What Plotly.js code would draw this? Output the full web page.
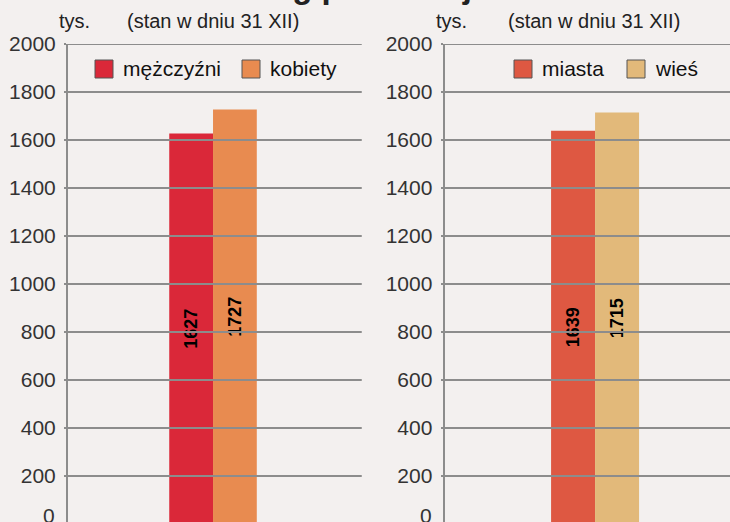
<!DOCTYPE html>
<html>
<head>
<meta charset="utf-8">
<script src="https://cdn.plot.ly/plotly-3.0.1.min.js"></script>
<style>html,body{margin:0;padding:0;background:#f3f0ef;}#chart{width:730px;height:522px;}</style>
</head>
<body>
<div id="chart"></div>
<script>
// ---- data ----
const titleText = 'Ludność według płci i miejsca zamieszkania';
const unitLabel = 'tys.';
const dateLabel = '(stan w dniu 31 XII)';
const sexCategories = ['mężczyźni', 'kobiety'];
const sexValues = [1627, 1727];
const placeCategories = ['miasta', 'wieś'];
const placeValues = [1639, 1715];
const tickValues = [0, 200, 400, 600, 800, 1000, 1200, 1400, 1600, 1800, 2000];
const sexColors = ['#da2839', '#e88b50'];
const placeColors = ['#de5842', '#e2b97a'];

// ---- helpers ----
const W = 730, H = 522, TOP = 44;
const px = x => x / W;
const py = y => (H - y) / (H - TOP);
const FONT = 'Liberation Sans, Arial, sans-serif';
const GRID = '#8c8c8c';

function makeTraces(cats, vals, colors, xa, ya) {
  return cats.map((c, i) => ({
    type: 'bar',
    name: c,
    x: ['all'],
    y: [vals[i]],
    xaxis: xa, yaxis: ya,
    marker: {color: colors[i], line: {width: 0}},
    text: [String(vals[i])],
    textposition: 'inside',
    insidetextanchor: 'middle',
    textangle: -90,
    constraintext: 'none',
    textfont: {family: FONT, size: 18, weight: 'bold', color: '#000'},
    hoverinfo: 'skip'
  }));
}

const data = [
  ...makeTraces(sexCategories, sexValues, sexColors, 'x', 'y'),
  ...makeTraces(placeCategories, placeValues, placeColors, 'x2', 'y2')
];

const yBase = {
  range: [8, 2000],
  tickvals: tickValues.filter(v => v > 0),
  showgrid: false,
  zeroline: false,
  showline: true,
  linecolor: GRID,
  linewidth: 2,
  ticks: 'outside',
  ticklen: 2,
  tickwidth: 2,
  tickcolor: GRID,
  ticklabelstandoff: 4,
  tickfont: {family: FONT, size: 21, color: '#333'},
  fixedrange: true
};
const xBase = {
  showticklabels: false, showgrid: false, zeroline: false, showline: false,
  ticks: '', fixedrange: true
};

const shapes = [];
[['x', 'y'], ['x2', 'y2']].forEach(([xa, ya]) => {
  tickValues.filter(v => v > 0).forEach(v => {
    shapes.push({
      type: 'line', layer: 'above',
      xref: xa + ' domain', yref: ya,
      x0: -0.008, x1: 1.02, y0: v, y1: v,
      line: {color: GRID, width: 2}
    });
  });
});

const annotations = [];
// title (clipped at top as in the reference)
annotations.push({
  text: '<b>' + titleText + '</b>', xref: 'paper', yref: 'paper',
  x: px(50), y: py(-13), xanchor: 'left', yanchor: 'middle',
  showarrow: false, font: {family: FONT, size: 33, color: '#222'}
});
// subtitles
[[74, 125], [451.5, 506]].forEach(([ux, dx]) => {
  annotations.push({text: unitLabel, xref: 'paper', yref: 'paper', x: px(ux), y: py(21),
    xanchor: 'center', yanchor: 'middle', showarrow: false, font: {family: FONT, size: 20, color: '#222'}});
  annotations.push({text: dateLabel, xref: 'paper', yref: 'paper', x: px(dx), y: py(21),
    xanchor: 'left', yanchor: 'middle', showarrow: false, font: {family: FONT, size: 20, color: '#222'}});
});
// zero labels
[57, 434].forEach(rx => {
  annotations.push({text: String(tickValues[0]), xref: 'paper', yref: 'paper', x: px(rx), y: py(515),
    xanchor: 'right', yanchor: 'middle', showarrow: false, font: {family: FONT, size: 21, color: '#333'}});
});

// custom legends
function legend(cats, colors, positions) {
  cats.forEach((c, i) => {
    const sx = positions[i];
    shapes.push({type: 'rect', xref: 'paper', yref: 'paper',
      x0: px(sx), x1: px(sx + 18), y0: py(78), y1: py(60),
      fillcolor: colors[i], line: {color: '#555', width: 1}});
    annotations.push({text: c, xref: 'paper', yref: 'paper', x: px(sx + 26), y: py(68.5),
      xanchor: 'left', yanchor: 'middle', showarrow: false,
      font: {family: FONT, size: 21, color: '#111'}});
  });
}
legend(sexCategories, sexColors, [95, 242]);
legend(placeCategories, placeColors, [514, 627]);

const layout = {
  width: W, height: H,
  margin: {l: 0, r: 0, t: TOP, b: 0, pad: 0},
  paper_bgcolor: '#f3f0ef',
  plot_bgcolor: '#f3f0ef',
  barmode: 'group',
  bargap: 0.7,
  bargroupgap: 0,
  showlegend: false,
  xaxis: Object.assign({}, xBase, {domain: [px(68), px(356)], range: [-0.497, 0.49], anchor: 'y'}),
  yaxis: Object.assign({}, yBase, {anchor: 'x'}),
  xaxis2: Object.assign({}, xBase, {domain: [px(444.6), 1], range: [-0.513, 0.460], anchor: 'y2'}),
  yaxis2: Object.assign({}, yBase, {anchor: 'x2'}),
  shapes: shapes,
  annotations: annotations,
  font: {family: FONT}
};

Plotly.newPlot('chart', data, layout, {displayModeBar: false, staticPlot: true});
</script>
</body>
</html>
